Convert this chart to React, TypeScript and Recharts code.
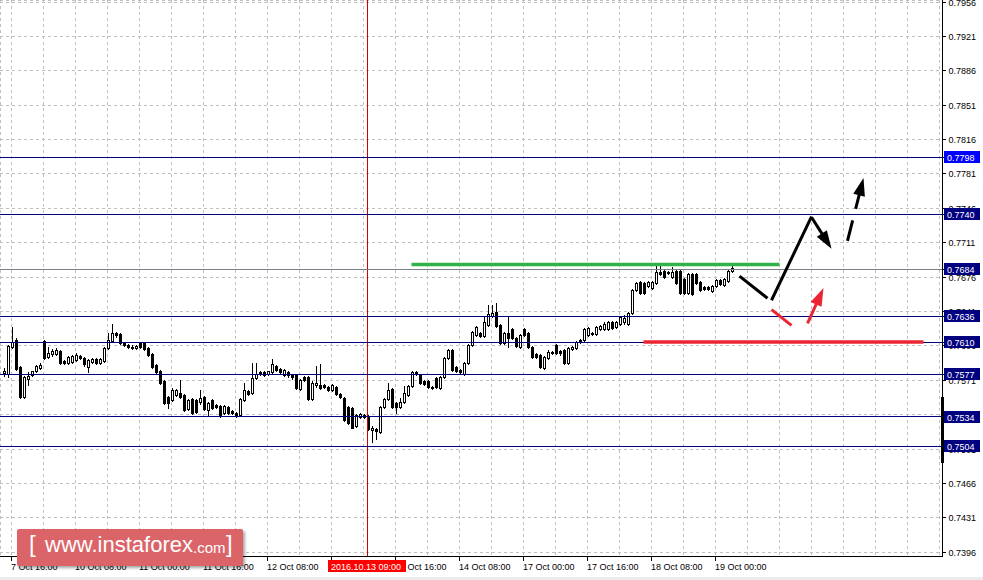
import React from "react";
import {
  ComposedChart,
  Bar,
  XAxis,
  YAxis,
  CartesianGrid,
  ReferenceLine,
} from "recharts";

// H1 candles, prices in pips (value x 0.0001), first bar = 7 Oct 14:00
const open = [
  7578, 7577, 7605, 7612, 7585, 7554, 7572, 7576, 7580, 7584,
  7611, 7595, 7598, 7598, 7601, 7591, 7589, 7590, 7592, 7596,
  7594, 7585, 7590, 7593, 7589, 7591, 7604, 7611, 7619, 7618,
  7609, 7607, 7605, 7604, 7609, 7609, 7604, 7598, 7587, 7581,
  7570, 7554, 7551, 7556, 7558, 7556, 7542, 7552, 7551, 7549,
  7554, 7541, 7551, 7546, 7545, 7538, 7544, 7540, 7538, 7536,
  7551, 7560, 7558, 7573, 7579, 7579, 7577, 7579, 7586, 7583,
  7576, 7579, 7576, 7576, 7562, 7574, 7574, 7552, 7566, 7566,
  7566, 7564, 7561, 7564, 7557, 7553, 7544, 7543, 7525, 7534,
  7536, 7535, 7520, 7521, 7518, 7544, 7552, 7562, 7548, 7544,
  7549, 7556, 7565, 7579, 7576, 7570, 7570, 7564, 7573, 7563,
  7574, 7594, 7602, 7585, 7582, 7577, 7589, 7607, 7617, 7619,
  7616, 7627, 7636, 7641, 7627, 7609, 7619, 7623, 7614, 7605,
  7623, 7619, 7605, 7598, 7597, 7584, 7594, 7600, 7607, 7601,
  7602, 7589, 7603, 7604, 7612, 7612, 7617, 7619, 7618, 7623,
  7623, 7623, 7630, 7625, 7628, 7630, 7628, 7640, 7663, 7671,
  7670, 7667, 7665, 7670, 7681, 7682, 7681, 7676, 7682, 7682,
  7674, 7660, 7679, 7679, 7671, 7666, 7666, 7662, 7667, 7673,
  7668, 7672, 7682,
];
const high = [
  7584, 7607, 7625, 7614, 7586, 7575, 7579, 7581, 7587, 7589,
  7612, 7605, 7603, 7604, 7602, 7592, 7596, 7597, 7599, 7597,
  7595, 7593, 7594, 7594, 7594, 7605, 7619, 7628, 7620, 7619,
  7610, 7608, 7607, 7607, 7610, 7610, 7605, 7599, 7588, 7582,
  7571, 7555, 7563, 7562, 7571, 7557, 7552, 7553, 7552, 7561,
  7555, 7549, 7552, 7547, 7546, 7546, 7545, 7541, 7539, 7553,
  7568, 7561, 7589, 7589, 7580, 7580, 7581, 7593, 7587, 7584,
  7583, 7580, 7577, 7577, 7572, 7575, 7575, 7570, 7586, 7588,
  7567, 7565, 7567, 7565, 7558, 7554, 7545, 7544, 7537, 7538,
  7537, 7536, 7525, 7522, 7545, 7553, 7568, 7563, 7549, 7553,
  7565, 7566, 7580, 7581, 7577, 7571, 7571, 7565, 7574, 7575,
  7595, 7603, 7603, 7586, 7583, 7590, 7608, 7621, 7626, 7620,
  7635, 7648, 7648, 7650, 7628, 7620, 7636, 7624, 7615, 7618,
  7624, 7620, 7606, 7599, 7598, 7596, 7602, 7601, 7608, 7602,
  7603, 7605, 7606, 7611, 7613, 7624, 7625, 7620, 7626, 7627,
  7630, 7631, 7631, 7631, 7636, 7637, 7641, 7664, 7671, 7672,
  7671, 7672, 7672, 7687, 7687, 7683, 7682, 7686, 7683, 7683,
  7675, 7680, 7680, 7680, 7672, 7667, 7667, 7668, 7674, 7674,
  7675, 7683, 7690,
];
const low = [
  7575, 7574, 7604, 7582, 7553, 7553, 7566, 7575, 7579, 7583,
  7593, 7594, 7596, 7597, 7588, 7588, 7588, 7589, 7591, 7593,
  7586, 7579, 7589, 7588, 7588, 7590, 7603, 7610, 7615, 7608,
  7606, 7604, 7603, 7603, 7604, 7602, 7596, 7584, 7578, 7567,
  7547, 7543, 7550, 7555, 7553, 7540, 7541, 7537, 7538, 7547,
  7541, 7536, 7542, 7543, 7534, 7537, 7537, 7537, 7534, 7535,
  7550, 7556, 7557, 7572, 7576, 7575, 7576, 7578, 7581, 7578,
  7575, 7574, 7572, 7562, 7561, 7570, 7551, 7551, 7564, 7562,
  7563, 7560, 7560, 7556, 7553, 7530, 7527, 7522, 7524, 7533,
  7533, 7520, 7508, 7511, 7517, 7543, 7551, 7543, 7538, 7543,
  7548, 7555, 7564, 7576, 7567, 7566, 7563, 7562, 7563, 7562,
  7573, 7593, 7581, 7579, 7577, 7576, 7588, 7606, 7616, 7615,
  7615, 7626, 7635, 7625, 7608, 7608, 7605, 7613, 7605, 7604,
  7616, 7604, 7594, 7594, 7584, 7583, 7593, 7598, 7598, 7597,
  7588, 7588, 7602, 7603, 7609, 7611, 7616, 7617, 7617, 7622,
  7622, 7622, 7623, 7624, 7627, 7628, 7627, 7639, 7662, 7659,
  7659, 7666, 7664, 7669, 7678, 7675, 7679, 7675, 7669, 7659,
  7659, 7659, 7658, 7669, 7662, 7663, 7663, 7661, 7666, 7668,
  7667, 7671, 7681,
];
const close = [
  7581, 7606, 7610, 7583, 7554, 7574, 7575, 7580, 7586, 7587,
  7594, 7599, 7601, 7602, 7589, 7589, 7595, 7596, 7597, 7594,
  7588, 7592, 7593, 7589, 7593, 7604, 7612, 7619, 7617, 7609,
  7607, 7605, 7604, 7606, 7605, 7603, 7597, 7585, 7579, 7568,
  7548, 7548, 7561, 7561, 7554, 7541, 7551, 7538, 7539, 7553,
  7542, 7548, 7543, 7544, 7535, 7545, 7538, 7538, 7535, 7552,
  7561, 7557, 7573, 7577, 7577, 7576, 7580, 7588, 7582, 7579,
  7582, 7576, 7574, 7563, 7571, 7571, 7552, 7568, 7568, 7563,
  7564, 7561, 7566, 7557, 7554, 7531, 7528, 7523, 7536, 7537,
  7534, 7521, 7523, 7519, 7544, 7552, 7561, 7544, 7544, 7549,
  7558, 7565, 7579, 7577, 7568, 7567, 7564, 7563, 7564, 7574,
  7594, 7602, 7582, 7580, 7579, 7589, 7607, 7620, 7625, 7616,
  7630, 7638, 7640, 7626, 7609, 7619, 7614, 7614, 7606, 7617,
  7617, 7605, 7595, 7595, 7585, 7595, 7600, 7599, 7599, 7599,
  7589, 7604, 7605, 7610, 7610, 7623, 7624, 7618, 7625, 7626,
  7628, 7630, 7624, 7630, 7635, 7634, 7640, 7663, 7670, 7660,
  7660, 7671, 7671, 7681, 7679, 7676, 7680, 7681, 7670, 7660,
  7660, 7679, 7659, 7670, 7663, 7664, 7664, 7667, 7673, 7669,
  7674, 7682, 7685,
];

// every 16th bar starting at bar 2
const timeLabels = [
  "7 Oct 16:00", "10 Oct 08:00", "11 Oct 00:00", "11 Oct 16:00",
  "12 Oct 08:00", "13 Oct 00:00", "13 Oct 16:00", "14 Oct 08:00",
  "17 Oct 00:00", "17 Oct 16:00", "18 Oct 08:00", "19 Oct 00:00",
];
const priceTicks = [
  7396, 7431, 7466, 7501, 7536, 7571, 7606, 7641, 7676,
  7711, 7746, 7781, 7816, 7851, 7886, 7921, 7956,
];
const levels = [7798, 7740, 7684, 7636, 7610, 7577, 7534, 7504];
const crossBar = 91;
const crossText = "2016.10.13 09:00";

// drawn objects: [bar, price] pairs
const greenLine = [[102, 7689], [194, 7689]];
const redLine = [[160, 7610], [230, 7610]];
const blackLegs = [
  [[184, 7677], [191, 7654.5]],
  [[192, 7652.5], [202, 7737.5]],
];
const blackArrow = [[202, 7737], [207, 7705]];
const dashedArrow = [[211, 7713], [215, 7777]];
const redLeg = [[192, 7643], [197, 7627]];
const redArrow = [[201, 7629], [205, 7665]];

const SLOTS = 235;
const Y_MAX = 0.795804;
const Y_MIN = 0.739173;
const FONT = "'Liberation Sans', Arial, sans-serif";
const NAVY = "#000080";
const RED = "#ec2533";

const p = (v: number) => v / 10000;

const data = Array.from({ length: SLOTS }, (_, i) =>
  i < open.length
    ? {
        i,
        open: p(open[i]),
        high: p(high[i]),
        low: p(low[i]),
        close: p(close[i]),
        range: [p(low[i]), p(high[i])],
      }
    : { i }
);

// grid every 8 bars; the crosshair bar goes last so its label sits on top
const xTicks = [...Array.from({ length: 30 }, (_, k) => 2 + 8 * k), crossBar];
// level boxes last so they cover the plain price labels
const yTicks = [...priceTicks, ...levels].map(p);

const seg = (pts: number[][]) => pts.map(([x, y]) => ({ x, y: p(y) }));

function Candle(props: any) {
  const { x, width, y, height, payload } = props;
  if (!payload || payload.open == null || !height) return <g />;
  const { open: o, close: c, high: h, low: l } = payload;
  const k = height / (h - l);
  const toY = (v: number) => y + (h - v) * k;
  const cx = Math.floor(x + width / 2) + 0.5;
  const top = Math.round(toY(Math.max(o, c)));
  const bot = Math.round(toY(Math.min(o, c)));
  const wickTop = Math.round(toY(h));
  const wickBot = Math.round(toY(l));
  const bull = c >= o;
  return (
    <g shapeRendering="crispEdges">
      <line x1={cx} x2={cx} y1={wickTop} y2={wickBot + 1} stroke="#000" />
      {bull ? (
        <rect
          x={cx - 1}
          y={top + 0.5}
          width={2}
          height={Math.max(bot - top, 1)}
          fill="#fff"
          stroke="#000"
        />
      ) : (
        <rect
          x={cx - 1.5}
          y={top}
          width={3}
          height={Math.max(bot - top + 1, 1)}
          fill="#000"
        />
      )}
    </g>
  );
}

function XTick(props: any) {
  const { x, y, payload, index } = props;
  if (payload.value === crossBar && index === xTicks.length - 1) {
    const bx = Math.floor(x) - 39;
    return (
      <g>
        <rect x={bx} y={y + 3.5} width={78} height={12} fill="#ff0000" />
        <text x={bx + 3} y={y + 13} fontSize={9} fontFamily={FONT} fill="#fff">
          {crossText}
        </text>
      </g>
    );
  }
  const k = (payload.value - 2) / 16;
  const text = Number.isInteger(k) ? timeLabels[k] : undefined;
  if (!text) return <g />;
  return (
    <g>
      <line x1={x} x2={x} y1={y} y2={y + 4} stroke="#000" shapeRendering="crispEdges" />
      <text x={x - 0.5} y={y + 13.5} fontSize={9} fontFamily={FONT} fill="#000">
        {text}
      </text>
    </g>
  );
}

function YTick(props: any) {
  const { x, y, payload } = props;
  const v = Math.round(Number(payload.value) * 10000);
  const label = (v / 10000).toFixed(4);
  if (levels.includes(v)) {
    const yy = Math.round(y);
    const bg = v === 7798 ? "#0000ff" : NAVY;
    return (
      <g>
        <rect x={x - 4.5} y={yy - 6} width={36} height={12} fill={bg} />
        <text x={x - 1.5} y={yy + 3.5} fontSize={9} fontFamily={FONT} fill="#fff">
          {label}
        </text>
      </g>
    );
  }
  return (
    <text x={x} y={y + 3.5} fontSize={9} fontFamily={FONT} fill="#000">
      {label}
    </text>
  );
}

const arrowShape = (color: string, dash?: string) => (props: any) => {
  const { x1, y1, x2, y2 } = props;
  const a = Math.atan2(y2 - y1, x2 - x1);
  const L = 18;
  const W = 6;
  const bx = x2 - L * Math.cos(a);
  const by = y2 - L * Math.sin(a);
  const px = -Math.sin(a) * W;
  const py = Math.cos(a) * W;
  return (
    <g>
      <line
        x1={x1}
        y1={y1}
        x2={bx + 2 * Math.cos(a)}
        y2={by + 2 * Math.sin(a)}
        stroke={color}
        strokeWidth={3}
        strokeDasharray={dash}
      />
      <polygon
        points={`${x2},${y2} ${bx + px},${by + py} ${bx - px},${by - py}`}
        fill={color}
      />
    </g>
  );
};

const css = `
.recharts-cartesian-grid line,
.recharts-cartesian-axis-line,
.recharts-cartesian-axis-tick-line,
.crisp line { shape-rendering: crispEdges; }
`;

export default function App() {
  return (
    <div
      style={{
        position: "absolute",
        left: 0,
        top: 0,
        width: 983,
        height: 580,
        background: "#fff",
        overflow: "hidden",
      }}
    >
      <style>{css}</style>
      <ComposedChart
        width={983}
        height={580}
        data={data}
        margin={{ top: 0, right: 0, bottom: 0, left: 0 }}
      >
        <CartesianGrid stroke="#c0c0c0" strokeDasharray="3 3" />
        <XAxis
          dataKey="i"
          type="category"
          ticks={xTicks}
          interval={0}
          tick={(t: any) => <XTick {...t} />}
          tickLine={false}
          tickSize={0}
          tickMargin={0}
          height={23.5}
          padding={{ left: 1.5, right: 1 }}
          axisLine={{ stroke: "#000" }}
        />
        <YAxis
          orientation="right"
          type="number"
          domain={[Y_MIN, Y_MAX]}
          allowDataOverflow
          ticks={yTicks}
          interval={0}
          tick={(t: any) => <YTick {...t} />}
          tickSize={3}
          tickMargin={3}
          width={40.5}
          axisLine={{ stroke: "#000" }}
          tickLine={{ stroke: "#000" }}
        />
        <ReferenceLine x={crossBar} stroke="#d40000" className="crisp" />
        {levels.map((lv) => (
          <ReferenceLine
            key={lv}
            y={p(lv)}
            className="crisp"
            stroke={lv === 7684 ? "#7a8088" : NAVY}
          />
        ))}
        <Bar
          dataKey="range"
          barSize={3}
          shape={(s: any) => <Candle {...s} />}
          isAnimationActive={false}
        />
        <ReferenceLine segment={seg(greenLine)} stroke="#33b249" strokeWidth={3.5} />
        <ReferenceLine segment={seg(redLine)} stroke={RED} strokeWidth={3.5} />
        {blackLegs.map((l, k) => (
          <ReferenceLine key={k} segment={seg(l)} stroke="#000" strokeWidth={3} />
        ))}
        <ReferenceLine segment={seg(blackArrow)} shape={arrowShape("#000")} />
        <ReferenceLine segment={seg(dashedArrow)} shape={arrowShape("#000", "21 12 100")} />
        <ReferenceLine segment={seg(redLeg)} stroke={RED} strokeWidth={3} />
        <ReferenceLine segment={seg(redArrow)} shape={arrowShape(RED)} />
      </ComposedChart>

      <div
        style={{
          position: "absolute",
          left: 941,
          top: 397,
          width: 3,
          height: 66,
          background: "#000",
        }}
      />
      <div
        style={{
          position: "absolute",
          left: 17,
          top: 529,
          width: 226,
          height: 37,
          background: "#db6469",
          borderRadius: 2,
          boxShadow: "2px 2px 3px rgba(0,0,0,0.35)",
          color: "#fff",
          fontFamily: FONT,
          whiteSpace: "nowrap",
        }}
      >
        <span style={{ position: "absolute", left: 12, top: 3, fontSize: 24, lineHeight: "24px" }}>[</span>
        <span style={{ position: "absolute", left: 28, top: 5, fontSize: 22, lineHeight: "22px" }}>
          www.instaforex
        </span>
        <span style={{ position: "absolute", left: 176, top: 11, fontSize: 15, lineHeight: "15px" }}>
          .com
        </span>
        <span style={{ position: "absolute", left: 209, top: 3, fontSize: 24, lineHeight: "24px" }}>]</span>
      </div>
      <div
        style={{
          position: "absolute",
          left: 0,
          top: 577,
          width: 983,
          height: 3,
          background: "#ececec",
        }}
      />
    </div>
  );
}
